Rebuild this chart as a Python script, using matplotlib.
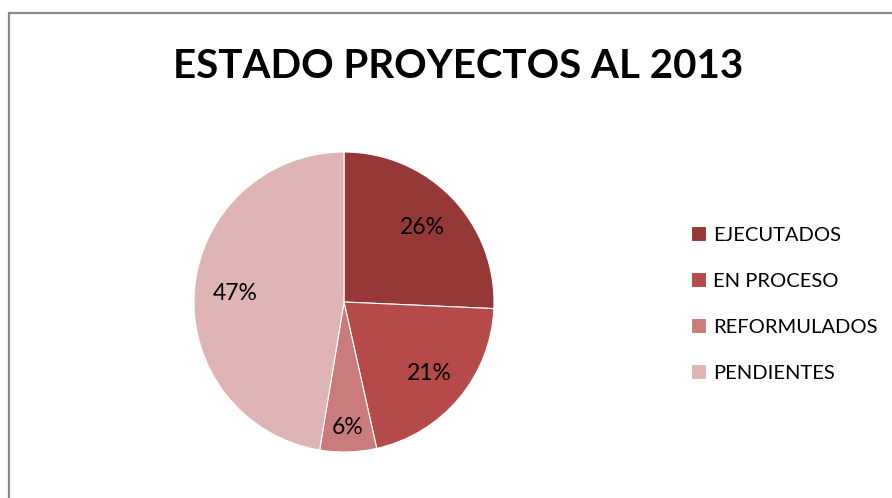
import matplotlib
matplotlib.use("Agg")
import matplotlib.pyplot as plt
from matplotlib.patches import Rectangle
import numpy as np

categories = ["EJECUTADOS", "EN PROCESO", "REFORMULADOS", "PENDIENTES"]
values = [25.7, 20.8, 6.1, 47.4]
colors = ["#953836", "#B54A48", "#C97C7B", "#DEB4B4"]
title = "ESTADO PROYECTOS AL 2013"

W, H = 892, 498
fig = plt.figure(figsize=(W / 100, H / 100), dpi=100)
fig.patch.set_facecolor("white")

# chart border (gray frame)
fig.patches.append(Rectangle((8.5 / W, -0.1), 1.2, 1.1 - 13.5 / H,
                             transform=fig.transFigure, fill=False,
                             edgecolor="#8a8a8a", linewidth=1.6))

fig.text(458 / W, 1 - 66 / H, title, ha="center", va="center",
         fontsize=29, fontweight="bold", family="Lato", color="black")

cx, cy, r = 344, 302, 150
ax = fig.add_axes([(cx - r) / W, (H - cy - r) / H, 2 * r / W, 2 * r / H])
wedges, texts, autotexts = ax.pie(values, colors=colors, startangle=90,
                                  counterclock=False, autopct="%1.0f%%",
                                  pctdistance=0.73,
                                  wedgeprops=dict(edgecolor="white", linewidth=0.8),
                                  textprops=dict(fontsize=16.5, family="Lato", color="black"))
ax.set_xlim(-1, 1)
ax.set_ylim(-1, 1)
ax.set_aspect("equal")
ax.axis("off")

dists = [0.72, 0.74, 0.84, 0.73]
for w, t, d in zip(wedges, autotexts, dists):
    th = np.deg2rad((w.theta1 + w.theta2) / 2)
    t.set_position((d * np.cos(th), d * np.sin(th)))

# legend
leg = fig.legend(wedges, categories, loc="center left",
                 bbox_to_anchor=(673 / W, 1 - 304 / H), frameon=False,
                 prop=dict(family="Lato", size=14.5), handlelength=0.75,
                 handleheight=0.75, handletextpad=0.35, labelspacing=1.42)

fig.savefig("out.png", dpi=100, facecolor="white")
